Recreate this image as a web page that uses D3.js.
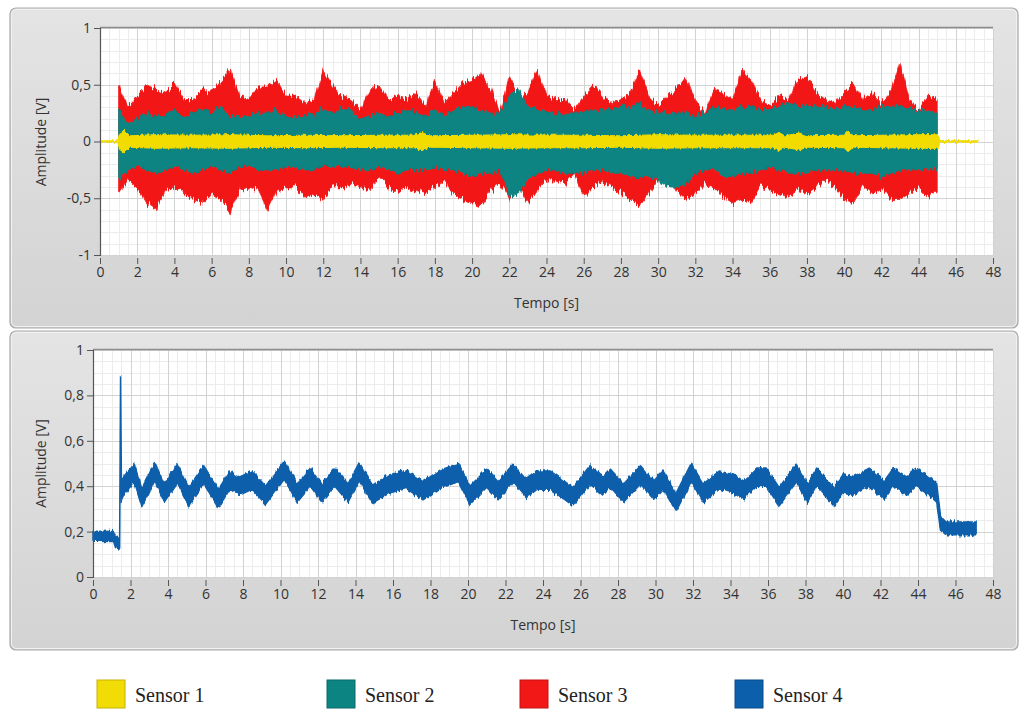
<!DOCTYPE html>
<html>
<head>
<meta charset="utf-8">
<script src="https://cdn.jsdelivr.net/npm/d3@7"></script>
<style>
  html, body { margin: 0; padding: 0; background: #ffffff; }
  svg { display: block; }
</style>
</head>
<body>
<svg id="chart" width="1025" height="709"></svg>
<script>
// ---------------- DATA ----------------
// Envelope sample times (s) for sensors 1-3 (top graph)
const envTimes = [1,1.5,2,2.5,3,3.5,4,4.5,5,5.5,6,6.5,7,7.5,8,8.5,9,9.5,10,10.5,11,11.5,12,12.5,13,13.5,14,14.5,15,15.5,16,16.5,17,17.5,18,18.5,19,19.5,20,20.5,21,21.5,22,22.5,23,23.5,24,24.5,25,25.5,26,26.5,27,27.5,28,28.5,29,29.5,30,30.5,31,31.5,32,32.5,33,33.5,34,34.5,35,35.5,36,36.5,37,37.5,38,38.5,39,39.5,40,40.5,41,41.5,42,42.5,43,43.5,44,44.5,45];

// Sensor 3 (red) upper / lower envelope [V]
const sensor3Max = [0.50,0.31,0.40,0.50,0.46,0.43,0.51,0.37,0.37,0.46,0.43,0.54,0.63,0.40,0.37,0.49,0.49,0.54,0.40,0.40,0.34,0.37,0.62,0.49,0.40,0.37,0.28,0.46,0.49,0.37,0.40,0.37,0.43,0.31,0.54,0.34,0.43,0.51,0.54,0.60,0.46,0.25,0.57,0.37,0.43,0.63,0.40,0.37,0.37,0.28,0.40,0.49,0.40,0.34,0.37,0.43,0.63,0.40,0.31,0.40,0.46,0.57,0.37,0.25,0.46,0.43,0.37,0.63,0.54,0.37,0.31,0.40,0.37,0.54,0.57,0.43,0.37,0.34,0.43,0.51,0.37,0.43,0.34,0.43,0.69,0.37,0.28,0.40,0.37];
const sensor3Min = [-0.46,-0.34,-0.40,-0.54,-0.60,-0.43,-0.40,-0.46,-0.51,-0.54,-0.46,-0.51,-0.62,-0.43,-0.40,-0.43,-0.60,-0.43,-0.40,-0.40,-0.49,-0.46,-0.51,-0.40,-0.40,-0.37,-0.40,-0.43,-0.31,-0.40,-0.46,-0.40,-0.43,-0.46,-0.40,-0.34,-0.46,-0.51,-0.54,-0.57,-0.43,-0.37,-0.51,-0.40,-0.54,-0.43,-0.34,-0.34,-0.37,-0.28,-0.49,-0.40,-0.34,-0.40,-0.46,-0.51,-0.57,-0.46,-0.34,-0.28,-0.43,-0.51,-0.46,-0.37,-0.40,-0.49,-0.54,-0.51,-0.54,-0.40,-0.43,-0.46,-0.49,-0.43,-0.46,-0.40,-0.34,-0.40,-0.51,-0.54,-0.40,-0.46,-0.40,-0.51,-0.51,-0.46,-0.40,-0.49,-0.43];

// Sensor 2 (teal) upper / lower envelope [V]
const sensor2Max = [0.28,0.16,0.19,0.25,0.22,0.22,0.28,0.22,0.25,0.28,0.25,0.31,0.22,0.22,0.22,0.25,0.25,0.28,0.22,0.22,0.22,0.25,0.28,0.25,0.28,0.28,0.19,0.22,0.25,0.22,0.25,0.28,0.25,0.22,0.28,0.22,0.28,0.31,0.31,0.28,0.25,0.25,0.40,0.46,0.31,0.28,0.28,0.25,0.25,0.25,0.25,0.28,0.28,0.28,0.31,0.31,0.34,0.28,0.25,0.25,0.25,0.25,0.22,0.25,0.31,0.28,0.28,0.31,0.31,0.28,0.28,0.31,0.34,0.31,0.31,0.31,0.31,0.28,0.31,0.31,0.28,0.28,0.31,0.31,0.31,0.28,0.28,0.28,0.25];
const sensor2Min = [-0.34,-0.25,-0.22,-0.25,-0.28,-0.25,-0.22,-0.25,-0.28,-0.25,-0.22,-0.25,-0.28,-0.22,-0.22,-0.25,-0.25,-0.25,-0.22,-0.22,-0.25,-0.25,-0.22,-0.22,-0.22,-0.22,-0.25,-0.25,-0.22,-0.25,-0.28,-0.25,-0.25,-0.25,-0.22,-0.25,-0.25,-0.28,-0.31,-0.28,-0.28,-0.25,-0.49,-0.46,-0.34,-0.28,-0.25,-0.25,-0.28,-0.28,-0.28,-0.25,-0.25,-0.28,-0.28,-0.31,-0.31,-0.31,-0.34,-0.40,-0.40,-0.37,-0.28,-0.25,-0.25,-0.31,-0.31,-0.28,-0.28,-0.25,-0.22,-0.25,-0.28,-0.28,-0.28,-0.25,-0.25,-0.25,-0.25,-0.28,-0.28,-0.28,-0.31,-0.28,-0.25,-0.25,-0.25,-0.25,-0.25];

// Sensor 1 (yellow) symmetric envelope half-amplitude [V]
const sensor1Times = [0,0.95,1.05,1.3,1.6,3,5,7,9,11,13,15,16.9,17.3,17.7,20,22,24,26,28,30,32,34,36.2,36.5,36.8,37.6,38,40.0,40.2,40.5,42,44,45.05,45.15,47.2];
const sensor1Amp   = [0.006,0.006,0.07,0.10,0.05,0.06,0.055,0.06,0.05,0.055,0.05,0.055,0.055,0.08,0.05,0.055,0.06,0.055,0.055,0.05,0.06,0.055,0.055,0.055,0.08,0.05,0.075,0.05,0.055,0.09,0.05,0.055,0.06,0.06,0.008,0.006];

// Sensor 4 (blue, bottom graph): band centre and half-width [V]
const sensor4Times = [0,1.1,1.2,1.42,1.47,1.52,1.6,2.2,2.6,3.3,3.8,4.5,5.1,5.9,6.7,7.3,7.8,8.5,9.2,10.2,10.9,11.6,12.2,12.9,13.6,14.2,14.9,15.8,16.7,17.6,18.5,19.5,20.1,21.0,21.6,22.4,23.1,23.7,24.4,25.6,26.5,27.2,27.6,28.3,29.2,29.9,30.4,31.1,31.9,32.55,33.4,34.15,34.7,35.4,35.9,36.6,37.5,38.1,38.6,39.5,40.0,40.5,41.4,42.2,42.7,43.4,43.9,44.6,45.0,45.2,45.5,47.1];
const sensor4Mid   = [0.18,0.178,0.155,0.145,0.88,0.36,0.40,0.457,0.35,0.464,0.37,0.457,0.354,0.45,0.347,0.427,0.40,0.427,0.36,0.47,0.37,0.44,0.37,0.44,0.37,0.464,0.365,0.41,0.43,0.38,0.43,0.46,0.36,0.435,0.38,0.457,0.39,0.427,0.427,0.354,0.45,0.40,0.435,0.37,0.45,0.383,0.427,0.33,0.46,0.37,0.427,0.41,0.383,0.44,0.44,0.354,0.457,0.37,0.44,0.354,0.41,0.40,0.44,0.383,0.44,0.40,0.44,0.40,0.37,0.236,0.214,0.214];
const sensor4Half  = [0.022,0.022,0.025,0.022,0.005,0.03,0.04,0.04,0.04,0.04,0.04,0.04,0.04,0.04,0.04,0.04,0.04,0.04,0.04,0.04,0.04,0.04,0.04,0.04,0.04,0.04,0.04,0.04,0.04,0.04,0.04,0.04,0.04,0.04,0.04,0.04,0.04,0.04,0.04,0.04,0.04,0.04,0.04,0.04,0.04,0.04,0.04,0.04,0.04,0.04,0.04,0.04,0.04,0.04,0.04,0.04,0.04,0.04,0.04,0.04,0.04,0.04,0.04,0.04,0.04,0.04,0.04,0.04,0.04,0.03,0.028,0.028];

// Axis ticks and labels
const xTicks = [0,2,4,6,8,10,12,14,16,18,20,22,24,26,28,30,32,34,36,38,40,42,44,46,48];
const yTicksTop = [-1,-0.5,0,0.5,1];
const yTicksBottom = [0,0.2,0.4,0.6,0.8,1];
const xTitle = "Tempo [s]";
const yTitle = "Amplitude [V]";
const legendNames = ["Sensor 1","Sensor 2","Sensor 3","Sensor 4"];
const seriesColors = ["#f2dc05","#0b8482","#f21818","#0c5fab"];

// ---------------- DRAWING ----------------
const svg = d3.select("#chart");
const defs = svg.append("defs");
const grad = defs.append("linearGradient").attr("id","panelGrad").attr("x1",0).attr("y1",0).attr("x2",0).attr("y2",1);
grad.append("stop").attr("offset","0%").attr("stop-color","#e4e4e4");
grad.append("stop").attr("offset","100%").attr("stop-color","#d3d3d3");

// rendering texture only: makes the filled envelopes look like dense signal traces
function jitterFilter(id, freq, scale) {
  const f = defs.append("filter").attr("id", id)
    .attr("x","-2%").attr("y","-20%").attr("width","104%").attr("height","140%");
  f.append("feTurbulence").attr("type","fractalNoise").attr("baseFrequency",freq)
    .attr("numOctaves",2).attr("seed",3).attr("result","noise");
  const ct = f.append("feComponentTransfer").attr("in","noise").attr("result","n2");
  ct.append("feFuncG").attr("type","linear").attr("slope",0).attr("intercept",0.5);
  f.append("feDisplacementMap").attr("in","SourceGraphic").attr("in2","n2")
    .attr("scale",scale).attr("xChannelSelector","G").attr("yChannelSelector","R");
}
jitterFilter("jRed", "0.55 0.04", 14);
jitterFilter("jTeal", "0.55 0.04", 10);
jitterFilter("jYel", "0.5 0.1", 4);
jitterFilter("jBlue", "0.5 0.06", 7);

const fmt = d => d === 0 ? "0" : String(d).replace(".", ",");
const axisFont = "'Open Sans', 'DejaVu Sans', sans-serif";

function panel(y0, h) {
  svg.append("rect").attr("x",10).attr("y",y0).attr("width",1008).attr("height",h)
    .attr("rx",6).attr("fill","url(#panelGrad)").attr("stroke","#a9a9a9").attr("stroke-width",1.2);
  svg.append("rect").attr("x",11.5).attr("y",y0+1.5).attr("width",1005).attr("height",h-3)
    .attr("rx",5).attr("fill","none").attr("stroke","#f2f2f2").attr("stroke-width",1);
}

function plotFrame(x, y, minorX, minorY, yTicks) {
  const g = svg.append("g");
  const [x0, x1] = x.range();
  const [yb, yt] = y.range();
  g.append("rect").attr("x",x0).attr("y",yt).attr("width",x1-x0).attr("height",yb-yt).attr("fill","#ffffff");
  const xd = x.domain(), yd = y.domain();
  const mx = d3.range(xd[0], xd[1] + 1e-9, minorX);
  const my = d3.range(yd[0], yd[1] + 1e-9, minorY);
  g.selectAll(".mx").data(mx).join("line")
    .attr("x1",d=>Math.round(x(d))+0.5).attr("x2",d=>Math.round(x(d))+0.5).attr("y1",yt).attr("y2",yb)
    .attr("stroke","#ececec").attr("stroke-width",1);
  g.selectAll(".my").data(my).join("line")
    .attr("y1",d=>Math.round(y(d))+0.5).attr("y2",d=>Math.round(y(d))+0.5).attr("x1",x0).attr("x2",x1)
    .attr("stroke","#ececec").attr("stroke-width",1);
  g.selectAll(".Mx").data(xTicks).join("line")
    .attr("x1",d=>Math.round(x(d))+0.5).attr("x2",d=>Math.round(x(d))+0.5).attr("y1",yt).attr("y2",yb)
    .attr("stroke","#d2d2d2").attr("stroke-width",1);
  g.selectAll(".My").data(yTicks).join("line")
    .attr("y1",d=>Math.round(y(d))+0.5).attr("y2",d=>Math.round(y(d))+0.5).attr("x1",x0).attr("x2",x1)
    .attr("stroke","#d2d2d2").attr("stroke-width",1);
  g.append("line").attr("x1",x0).attr("x2",x1).attr("y1",yt-0.5).attr("y2",yt-0.5)
    .attr("stroke","#8d8d8d").attr("stroke-width",1.5);
}

function axes(x, y, yTicks, titleY, yTitleY) {
  const [x0, x1] = x.range();
  const [yb, yt] = y.range();
  const ya = svg.append("g").attr("transform",`translate(${x0},0)`)
    .call(d3.axisLeft(y).tickValues(yTicks).tickFormat(fmt).tickSize(6).tickPadding(3));
  ya.select(".domain").attr("stroke","#555").attr("stroke-width",1.2);
  ya.selectAll(".tick line").attr("stroke","#555");
  ya.selectAll("text").attr("font-family",axisFont).attr("font-size",14).attr("fill","#333");
  const xa = svg.append("g").attr("transform",`translate(0,${yb+3})`)
    .call(d3.axisBottom(x).tickValues(xTicks).tickFormat(fmt).tickSize(6).tickPadding(3));
  xa.select(".domain").remove();
  xa.selectAll(".tick line").attr("stroke","#555");
  xa.selectAll("text").attr("font-family",axisFont).attr("font-size",14).attr("fill","#333");
  svg.append("text").attr("x",x(24)).attr("y",titleY).attr("text-anchor","middle")
    .attr("font-family",axisFont).attr("font-size",14).attr("fill","#333").text(xTitle);
  svg.append("text").attr("transform",`translate(46,${yTitleY}) rotate(-90)`).attr("text-anchor","middle")
    .attr("font-family",axisFont).attr("font-size",14).attr("fill","#333").text(yTitle);
}

// ---- Top graph ----
panel(8, 320);
const xTop = d3.scaleLinear().domain([0,48]).range([100,993]);
const yTop = d3.scaleLinear().domain([-1,1]).range([255,28]);
plotFrame(xTop, yTop, 0.5, 0.1, yTicksTop);

const topG = svg.append("g");
const envArea = d3.area().x(d=>xTop(d.t)).y0(d=>yTop(d.lo)).y1(d=>yTop(d.hi)).curve(d3.curveLinear);
const red = envTimes.map((t,i)=>({t, hi:sensor3Max[i], lo:sensor3Min[i]}));
const teal = envTimes.map((t,i)=>({t, hi:sensor2Max[i], lo:sensor2Min[i]}));
const yel = sensor1Times.map((t,i)=>({t, hi:sensor1Amp[i], lo:-sensor1Amp[i]}));
topG.append("path").attr("d",envArea(red)).attr("fill",seriesColors[2]).attr("stroke",seriesColors[2]).attr("stroke-width",0.8).attr("filter","url(#jRed)");
topG.append("path").attr("d",envArea(teal)).attr("fill",seriesColors[1]).attr("stroke",seriesColors[1]).attr("stroke-width",0.8).attr("filter","url(#jTeal)");
topG.append("path").attr("d",envArea(yel)).attr("fill",seriesColors[0]).attr("stroke",seriesColors[0]).attr("stroke-width",1).attr("filter","url(#jYel)");
axes(xTop, yTop, yTicksTop, 308, 142);

// ---- Bottom graph ----
panel(331, 319);
const xBot = d3.scaleLinear().domain([0,48]).range([93,993]);
const yBot = d3.scaleLinear().domain([0,1]).range([577,350]);
plotFrame(xBot, yBot, 0.5, 0.05, yTicksBottom);
const blue = sensor4Times.map((t,i)=>({t, hi:sensor4Mid[i]+sensor4Half[i], lo:sensor4Mid[i]-sensor4Half[i]}));
const bArea = d3.area().x(d=>xBot(d.t)).y0(d=>yBot(d.lo)).y1(d=>yBot(d.hi)).curve(d3.curveLinear);
svg.append("path").attr("d",bArea(blue)).attr("fill",seriesColors[3]).attr("stroke",seriesColors[3]).attr("stroke-width",1.5).attr("stroke-linejoin","round").attr("filter","url(#jBlue)");
axes(xBot, yBot, yTicksBottom, 630, yBot(0.5));

// ---- Legend ----
const legX = [97, 327, 520, 735];
const lg = svg.append("g");
legendNames.forEach((n,i)=>{
  lg.append("rect").attr("x",legX[i]).attr("y",680).attr("width",28).attr("height",28)
    .attr("fill",seriesColors[i]).attr("stroke",d3.color(seriesColors[i]).darker(0.6)).attr("stroke-width",1);
  lg.append("text").attr("x",legX[i]+38).attr("y",702).attr("font-family","'Liberation Serif', 'Times New Roman', serif")
    .attr("font-size",20).attr("fill","#222").text(n);
});
</script>
</body>
</html>
